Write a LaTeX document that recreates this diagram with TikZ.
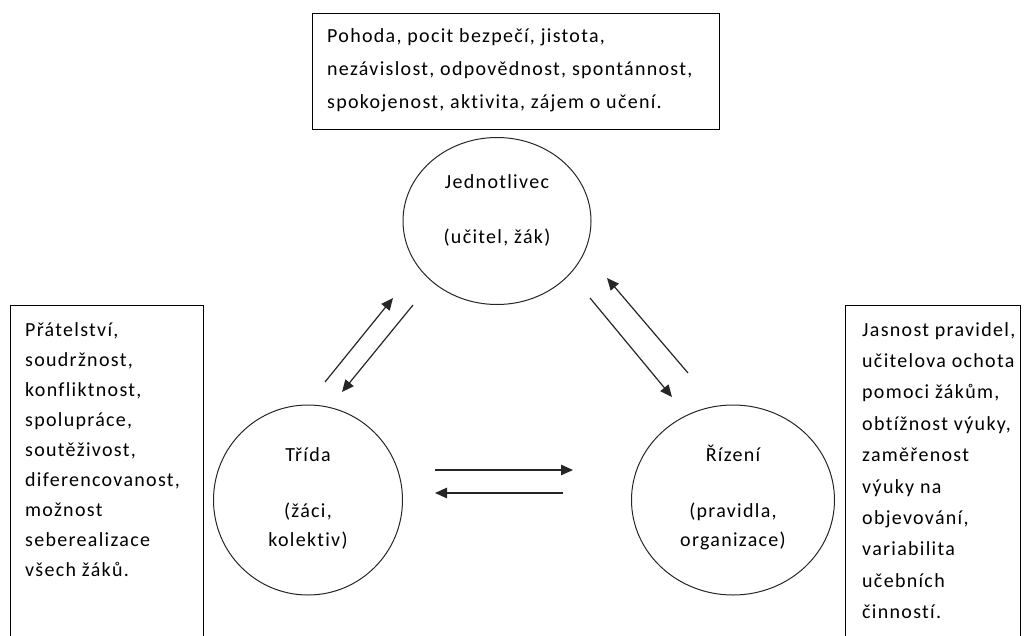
\documentclass[tikz,border=0pt]{standalone}
\usepackage{fontspec}
\setmainfont{Carlito}[LetterSpace=6.5, Ligatures={NoCommon}]
\usetikzlibrary{arrows.meta, positioning, calc, shapes.geometric}

\begin{document}
\begin{tikzpicture}[
  x=1pt, y=-1pt,
  >={Triangle[length=12pt,width=10.5pt]},
  box/.style={draw, line width=1pt, inner sep=0pt, anchor=north west},
  boxtext/.style={inner sep=0pt, anchor=north west, align=left},
  bubble/.style={draw, ellipse, line width=1pt, inner sep=0pt, draw=black!85},
  bubtext/.style={align=center, inner sep=0pt, font=\fontsize{20}{29}\selectfont},
  arr/.style={->, line width=1.2pt, draw=black!85}
]
  \useasboundingbox (0,0) rectangle (1028,635);
  \clip (0,0) rectangle (1028,635);

  % text boxes
  \node[box, minimum width=407, minimum height=116] (topbox) at (312,13) {};
  \node[boxtext, font=\fontsize{20}{33}\selectfont] (toptext) at (327,28)
    {Pohoda, pocit bezpečí, jistota,\\
     nezávislost, odpovědnost, spontánnost,\\
     spokojenost, aktivita, zájem o učení.};

  \node[box, minimum width=193, minimum height=340] (leftbox) at (10,305) {};
  \node[boxtext, font=\fontsize{20}{30}\selectfont] (lefttext) at (25,322)
    {Přátelství,\\ soudržnost,\\ konfliktnost,\\ spolupráce,\\ soutěživost,\\
     diferencovanost,\\ možnost\\ seberealizace\\ všech žáků.};

  \node[box, minimum width=175, minimum height=340] (rightbox) at (845,305) {};
  \node[boxtext, font=\fontsize{20}{31.4}\selectfont] (righttext) at (862,322)
    {Jasnost pravidel,\\ učitelova ochota\\ pomoci žákům,\\ obtížnost výuky,\\
     zaměřenost\\ výuky na\\ objevování,\\ variabilita\\ učebních\\ činností.};

  % circles
  \node[bubble, minimum width=188, minimum height=167] (indiv) at (497,221) {};
  \node[bubtext] (indivtext) at (497,210) {Jednotlivec\\[26pt](učitel, žák)};

  \node[bubble, minimum width=189, minimum height=190] (trida) at (308,500) {};
  \node[bubtext] (tridatext) at (308,498) {Třída\\[27pt](žáci,\\kolektiv)};

  \node[bubble, minimum width=203, minimum height=190] (rizeni) at (733,500) {};
  \node[bubtext] (rizenitext) at (733,498) {Řízení\\[27pt](pravidla,\\organizace)};

  % arrow ends
  \coordinate (l1a) at (325,382); \coordinate (l1b) at (393,298);
  \coordinate (l2a) at (413,305); \coordinate (l2b) at (342,392);
  \coordinate (r1a) at (590,298); \coordinate (r1b) at (672,397);
  \coordinate (r2a) at (688,373); \coordinate (r2b) at (607,278);
  \coordinate (h1a) at (435,470); \coordinate (h1b) at (573,470);
  \coordinate (h2a) at (563,493); \coordinate (h2b) at (435,493);

  \draw[arr] (l1a) -- (l1b);
  \draw[arr] (l2a) -- (l2b);
  \draw[arr] (r1a) -- (r1b);
  \draw[arr] (r2a) -- (r2b);
  \draw[arr] (h1a) -- (h1b);
  \draw[arr] (h2a) -- (h2b);
\end{tikzpicture}
\end{document}
